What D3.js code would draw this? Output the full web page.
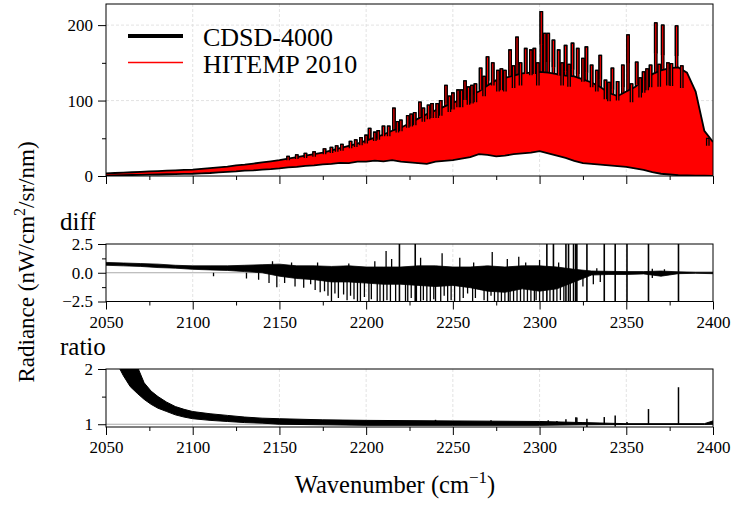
<!DOCTYPE html>
<html>
<head>
<meta charset="utf-8">
<script src="https://cdn.jsdelivr.net/npm/d3@7"></script>
<style>
  body { margin: 0; background: #fff; }
  text { font-family: "Liberation Serif", "Times New Roman", serif; }
</style>
</head>
<body>
<div id="chart"></div>
<script>
// ---- data ----
const WN_TICKS = [2050, 2100, 2150, 2200, 2250, 2300, 2350, 2400];
const WN_MINOR = [2075, 2125, 2175, 2225, 2275, 2325, 2375];

// top panel: comb top (without the tall lines) every 5 cm-1
const upperWn = d3.range(2050, 2401, 5);
const upperRad = [3.5, 4, 4.5, 5, 5.5, 6, 6.5, 7, 7.5, 8, 8.5, 9.5, 10.5, 11.5, 12.5, 14,
  15, 16.5, 18, 19.5, 21, 23, 25, 27, 29, 31, 34, 37, 40, 43, 47, 51, 55, 60, 64, 70,
  76, 82, 87, 92, 97, 102, 107, 112, 120, 127, 130, 133, 136, 137, 138, 137, 135,
  133, 132, 128, 124, 118, 110, 106, 112, 118, 127, 135, 140, 143, 144, 137, 112, 60, 45];
// bottom of the comb every 5 cm-1
const lowerWn = d3.range(2050, 2401, 5);
const lowerRad = [0.5, 0.8, 1, 1.3, 1.5, 1.8, 2, 2.3, 2.5, 2.8, 3, 3.5, 4, 4.8, 5.5, 6, 7,
  7.5, 8.5, 9, 10, 11.5, 12, 13.5, 14, 15.5, 16, 17.5, 17, 19, 19, 20.5, 19.5, 21, 19, 18,
  17, 16, 19, 20, 21, 23, 25, 29, 28, 26, 27, 29, 30, 31, 33, 30, 27, 24, 20, 17, 16, 15,
  14, 13, 12, 10, 8, 5, 3, 2, 1, 0.8, 0.5, 0.3, 0];
// individual lines standing above the comb
const peaks = [[2155, 26], [2160, 28], [2165, 30], [2170, 32], [2176, 36], [2180, 38],
  [2183, 40], [2186, 42], [2191, 46], [2194, 48], [2197, 51], [2200, 54], [2202, 63],
  [2205, 58], [2207, 60], [2210, 66], [2213, 66], [2216, 90], [2218, 72], [2220, 74],
  [2224, 80], [2226, 82], [2228, 84], [2231, 98], [2233, 90], [2236, 94], [2238, 96],
  [2241, 96], [2243, 100], [2246, 120], [2248, 106], [2250, 110], [2253, 114], [2255, 114],
  [2257, 126], [2259, 118], [2261, 120], [2263, 122], [2266, 143], [2268, 132],
  [2270, 158], [2273, 150], [2276, 140], [2278, 142], [2280, 140], [2283, 167], [2285, 146],
  [2287, 184], [2289, 150], [2292, 169], [2295, 167], [2297, 169], [2299, 150], [2301, 218],
  [2303, 189], [2305, 189], [2308, 180], [2311, 167], [2313, 150], [2315, 173], [2317, 148],
  [2319, 176], [2322, 169], [2325, 156], [2327, 171], [2330, 147], [2333, 140], [2335, 160],
  [2338, 127], [2340, 124], [2342, 143], [2345, 125], [2348, 147], [2351, 187], [2353, 122],
  [2356, 151], [2358, 130], [2360, 138], [2362, 142], [2364, 147], [2367, 203], [2369, 148],
  [2371, 200], [2374, 150], [2376, 149], [2379, 199], [2382, 146], [2397, 50]];

// diff panel: noise band every 10 cm-1
const diffWn = d3.range(2050, 2401, 10);
const diffHi = [0.9, 0.85, 0.8, 0.75, 0.65, 0.6, 0.6, 0.6, 0.65, 0.7, 0.75, 0.6, 0.6, 0.55,
  0.6, 0.5, 0.5, 0.5, 0.6, 0.6, 0.5, 0.5, 0.6, 0.5, 0.6, 0.6, 0.5, 0.3, 0.15, 0.12, 0.1,
  0.1, 0.15, 0.08, 0.05, 0.05];
const diffLo = [0.65, 0.6, 0.55, 0.45, 0.4, 0.3, 0.25, 0.2, 0.1, 0.0, -0.3, -0.5, -0.6,
  -0.8, -0.8, -0.9, -1.0, -1.0, -1.1, -1.2, -1.1, -1.3, -1.6, -1.7, -1.4, -1.6, -1.4, -0.8,
  -0.2, -0.15, -0.15, -0.1, -0.3, -0.08, -0.05, -0.08];
const diffSpikes = [[2112, -0.3], [2131, -0.5], [2138, -0.6], [2144, -0.9],
  [2148.5, -1.25], [2153, -0.9], [2159, -1.2], [2164, -1.3], [2168, -1.0], [2170.6, -1.5],
  [2173.5, -1.7], [2176, -1.6], [2178, -2.0], [2180, -2.6], [2182, -1.8], [2184, -2.2],
  [2187, -1.9], [2189, -2.4], [2191, -2.0], [2193, -2.3], [2195, -2.6], [2196.7, -2.6],
  [2199, -2.1], [2201.6, -2.6], [2203, -2.3], [2206.4, -2.6], [2208, -2.6], [2210, -2.6],
  [2212, -2.4], [2214, -2.6], [2217, -2.6], [2222.7, -2.6], [2224, -2.6], [2226, -2.2],
  [2229, -2.6], [2231.4, -2.6], [2233, -2.4], [2235, -2.6], [2237, -2.6], [2239, -2.3],
  [2240, -2.6], [2243, -2.6], [2245, -2.0], [2247, -2.6], [2249, -2.4], [2251, -2.6],
  [2254, -2.6], [2256, -2.2], [2258.5, -1.8], [2261.4, -2.6], [2263, -2.2], [2266, -1.5],
  [2268, -2.4], [2270, -2.6], [2272, -2.0], [2274, -2.6], [2276, -2.6], [2278, -2.6],
  [2280, -2.6], [2282, -2.6], [2283, -2.6], [2285, -2.6], [2287, -2.6], [2289, -2.6],
  [2291, -2.6], [2293, -2.6], [2295, -2.6], [2297, -2.6], [2298, -2.4], [2300, -2.6],
  [2302, -2.6], [2306, -2.6], [2310, -2.6], [2312, -2.4], [2314, -2.6], [2317.7, -2.6],
  [2325, -1.2], [2331, -1.0], [2335, -0.8], [2365, -0.45],
  [2146, 1.0], [2157, 0.9], [2172, 0.9], [2190, 0.8], [2205, 1.0], [2211.5, 1.9],
  [2214.7, 1.2], [2231.4, 1.3], [2243.8, 1.7], [2254, 1.3], [2262, 0.9], [2272.7, 1.8],
  [2281.4, 1.2], [2288, 1.4], [2292, 0.9], [2300, 1.1], [2311, 0.9], [2333, 0.4],
  [2365, 0.35], [2372, 0.3]];
// lines that run off both ends of the diff axis
const diffFull = [2219.2, 2228.3, 2304.2, 2308, 2315.2, 2316.7, 2319.6, 2320.9, 2321.5,
  2327.3, 2337.3, 2343.6, 2350.4, 2362.8, 2380.1];

// ratio panel band
const ratioWn = [2050, 2056, 2058, 2060, 2064, 2068, 2072, 2076, 2080, 2085, 2090, 2095, 2100,
  2110, 2120, 2130, 2140, 2150, 2175, 2200, 2250, 2300, 2325, 2350, 2395, 2400];
const ratioHi = [3.0, 2.6, 2.45, 2.3, 2.1, 2.05, 1.75, 1.6, 1.5, 1.4, 1.32, 1.27, 1.23,
  1.19, 1.16, 1.13, 1.11, 1.1, 1.08, 1.07, 1.06, 1.05, 1.03, 1.01, 1.01, 1.06];
const ratioLo = [2.6, 2.1, 2.0, 1.88, 1.68, 1.56, 1.45, 1.36, 1.29, 1.23, 1.17, 1.13, 1.1,
  1.07, 1.05, 1.03, 1.02, 1.0, 0.99, 0.98, 0.98, 0.98, 0.99, 0.995, 0.995, 1.0];
const ratioSpikes = [[2240, 1.08], [2272, 1.07], [2305, 1.07], [2310, 1.06],
  [2315.2, 1.09], [2320.9, 1.125], [2321.5, 1.12], [2327.3, 1.1], [2327.3, 0.95],
  [2337.3, 1.13], [2343.6, 1.16], [2343.6, 0.96], [2350.4, 1.04], [2362.8, 1.275],
  [2380.1, 1.67]];

const legendItems = [
  { label: "CDSD-4000", color: "#000", width: 4 },
  { label: "HITEMP 2010", color: "#ff0000", width: 1.5 }
];

// ---- layout ----
const WIDTH = 737, HEIGHT = 507;
const LEFT = 106, RIGHT = 713;

var svg = d3.select("#chart").append("svg")
  .attr("width", WIDTH).attr("height", HEIGHT)
  .attr("font-family", "Liberation Serif");

var x = d3.scaleLinear().domain([2050, 2400]).range([LEFT, RIGHT]);

var panels = {
  top: { y: d3.scaleLinear().domain([0, 228]).range([176, 4]),
         ticks: [0, 100, 200], minor: [50, 150], fmt: d3.format("d"), labels: false },
  diff: { y: d3.scaleLinear().domain([-2.5, 2.5]).range([301.5, 244]),
          ticks: [-2.5, 0, 2.5], minor: [-1.25, 1.25], fmt: d3.format(".1f"), labels: true },
  ratio: { y: d3.scaleLinear().domain([0.95, 2]).range([427, 369]),
           ticks: [1, 2], minor: [1.5], fmt: d3.format("d"), labels: true }
};

function frame(name) {
  var p = panels[name];
  var y0 = p.y.range()[0], y1 = p.y.range()[1];
  var g = svg.append("g").attr("class", "panel-" + name);

  svg.append("clipPath").attr("id", "clip-" + name)
    .append("rect").attr("x", LEFT).attr("y", y1)
    .attr("width", RIGHT - LEFT).attr("height", y0 - y1);

  // dashed grid
  g.selectAll(".vgrid").data(WN_TICKS.slice(1, -1)).enter().append("line")
    .attr("x1", d => x(d)).attr("x2", d => x(d))
    .attr("y1", y1).attr("y2", y0)
    .attr("stroke", "#dcdcdc").attr("stroke-width", 0.8)
    .attr("stroke-dasharray", "3,2");
  g.selectAll(".hgrid").data(p.ticks.filter(t => p.y(t) < y0 - 1 && p.y(t) > y1 + 1))
    .enter().append("line")
    .attr("x1", LEFT).attr("x2", RIGHT)
    .attr("y1", d => p.y(d)).attr("y2", d => p.y(d))
    .attr("stroke", name === "top" ? "#dcdcdc" : "#aaa")
    .attr("stroke-width", name === "top" ? 0.8 : 1)
    .attr("stroke-dasharray", name === "top" ? "3,2" : null);

  p.plot = g.append("g").attr("clip-path", "url(#clip-" + name + ")");
  p.g = g;
  return p;
}

function axes(p) {
  var y0 = p.y.range()[0];
  var xa = d3.axisBottom(x).tickValues(WN_TICKS).tickSize(8).tickPadding(6)
    .tickFormat(p.labels ? d3.format("d") : "");
  var xm = d3.axisBottom(x).tickValues(WN_MINOR).tickSize(4).tickFormat("");
  var ya = d3.axisLeft(p.y).tickValues(p.ticks).tickSize(8).tickPadding(5)
    .tickFormat(p.fmt);
  var ym = d3.axisLeft(p.y).tickValues(p.minor).tickSize(4).tickFormat("");

  [[xa, "translate(0," + y0 + ")"], [xm, "translate(0," + y0 + ")"],
   [ya, "translate(" + LEFT + ",0)"], [ym, "translate(" + LEFT + ",0)"]]
    .forEach(function(a) {
      var ag = p.g.append("g").attr("transform", a[1]).call(a[0])
        .attr("font-family", "Liberation Serif");
      ag.select(".domain").remove();
      ag.selectAll("text").attr("font-size", 17).attr("fill", "#000");
      ag.selectAll("line").attr("stroke", "#000");
    });

  p.g.append("rect")
    .attr("x", LEFT).attr("y", p.y.range()[1])
    .attr("width", RIGHT - LEFT).attr("height", y0 - p.y.range()[1])
    .attr("fill", "none").attr("stroke", "#000").attr("stroke-width", 1);
}

// ---- top panel ----
var spec = frame("top");
var yT = spec.y;
var HW = 0.7;

var upperPts = upperWn.map((w, i) => [w, upperRad[i]]);
var lowerPts = lowerWn.map((w, i) => [w, lowerRad[i]]);

// region above the bottom of the comb, so the lines' feet stay hidden
svg.append("clipPath").attr("id", "clip-above")
  .append("path")
  .attr("d", d3.area().x(d => x(d[0])).y0(yT.range()[1] - 20).y1(d => yT(d[1]))(lowerPts));

var peakLayer = spec.plot.append("g").attr("clip-path", "url(#clip-above)");

function peakPath(d, from) {
  var a = x(d[0] - HW), b = x(d[0] + HW);
  return "M" + a + "," + yT(from) + "V" + yT(d[1]) + "H" + b + "V" + yT(from) + "Z";
}

peakLayer.selectAll(".peak").data(peaks).enter().append("path")
  .attr("d", d => peakPath(d, 0))
  .attr("fill", "#ff0000").attr("stroke", "#000").attr("stroke-width", 1.3)
  .attr("stroke-linejoin", "round");

var bandPts = upperPts.concat(lowerPts.slice().reverse());
spec.plot.append("path")
  .attr("d", d3.line().x(d => x(d[0])).y(d => yT(d[1]))(bandPts) + "Z")
  .attr("fill", "#ff0000");

var edge = d3.line().x(d => x(d[0])).y(d => yT(d[1]));
spec.plot.append("path").attr("d", edge(upperPts))
  .attr("fill", "none").attr("stroke", "#000").attr("stroke-width", 1.8);
spec.plot.append("path").attr("d", edge(lowerPts))
  .attr("fill", "none").attr("stroke", "#000").attr("stroke-width", 1.8);

// redraw the tops of the lines over the comb edge
spec.plot.append("g").selectAll(".peaktop").data(peaks).enter().append("path")
  .attr("d", function(d) {
    var a = x(d[0] - HW), b = x(d[0] + HW);
    return "M" + a + "," + yT(d[1] * 0.8) + "V" + yT(d[1]) + "H" + b + "V" + yT(d[1] * 0.8);
  })
  .attr("fill", "#ff0000").attr("stroke", "#000").attr("stroke-width", 1.3);

axes(spec);

// legend
var legend = spec.g.append("g").attr("class", "legend");
legendItems.forEach(function(item, i) {
  var yy = 36 + i * 26.5;
  legend.append("line").attr("x1", 128).attr("x2", 183)
    .attr("y1", yy).attr("y2", yy)
    .attr("stroke", item.color).attr("stroke-width", item.width);
  legend.append("text").attr("x", 203).attr("y", yy + 10)
    .attr("font-size", 26).text(item.label);
});

// ---- diff panel ----
var diff = frame("diff");
var yD = diff.y;
diff.plot.append("path")
  .datum(diffWn.map((w, i) => [w, diffHi[i], diffLo[i]]))
  .attr("d", d3.area().x(d => x(d[0])).y0(d => yD(d[2])).y1(d => yD(d[1])))
  .attr("fill", "#000").attr("stroke", "#000").attr("stroke-width", 0.8);
diff.plot.selectAll(".dsp").data(diffSpikes).enter().append("line")
  .attr("x1", d => x(d[0])).attr("x2", d => x(d[0]))
  .attr("y1", yD(0)).attr("y2", d => yD(d[1]))
  .attr("stroke", "#000").attr("stroke-width", 1.3);
diff.plot.selectAll(".dfull").data(diffFull).enter().append("line")
  .attr("x1", d => x(d)).attr("x2", d => x(d))
  .attr("y1", yD(-3)).attr("y2", yD(3))
  .attr("stroke", "#000").attr("stroke-width", 1.6);
axes(diff);
diff.g.append("text").attr("x", 60).attr("y", 230).attr("font-size", 25).text("diff");

// ---- ratio panel ----
var ratio = frame("ratio");
var yR = ratio.y;
ratio.plot.append("path")
  .datum(ratioWn.map((w, i) => [w, ratioHi[i], ratioLo[i]]))
  .attr("d", d3.area().x(d => x(d[0])).y0(d => yR(d[2])).y1(d => yR(d[1])))
  .attr("fill", "#000").attr("stroke", "#000").attr("stroke-width", 1);
ratio.plot.selectAll(".rsp").data(ratioSpikes).enter().append("line")
  .attr("x1", d => x(d[0])).attr("x2", d => x(d[0]))
  .attr("y1", yR(1)).attr("y2", d => yR(d[1]))
  .attr("stroke", "#000").attr("stroke-width", 1.5);
axes(ratio);
ratio.g.append("text").attr("x", 60).attr("y", 355).attr("font-size", 25).text("ratio");

// ---- axis titles ----
var xt = svg.append("text").attr("x", 395).attr("y", 493)
  .attr("text-anchor", "middle").attr("font-size", 24.5);
xt.append("tspan").text("Wavenumber (cm");
xt.append("tspan").attr("dy", -10).attr("font-size", 17).text("\u22121");
xt.append("tspan").attr("dy", 10).text(")");

var yt = svg.append("text")
  .attr("transform", "translate(34,262) rotate(-90)")
  .attr("text-anchor", "middle").attr("font-size", 23);
yt.append("tspan").text("Radiance (nW/cm");
yt.append("tspan").attr("dy", -9).attr("font-size", 16).text("2");
yt.append("tspan").attr("dy", 9).text("/sr/nm)");
</script>
</body>
</html>
